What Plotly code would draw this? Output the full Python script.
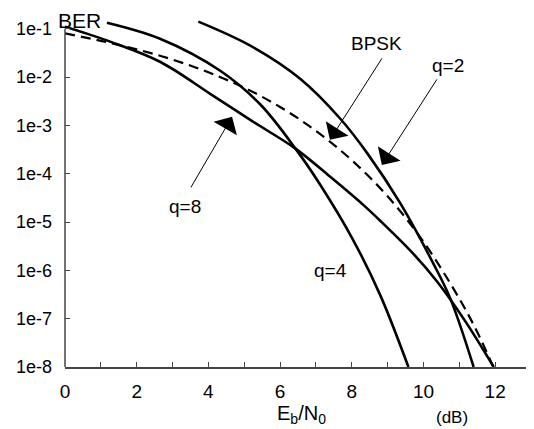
import plotly.graph_objects as go

# ---- data (Eb/N0 in dB, BER) ----
q2_x = [3.72, 5.17, 6.56, 7.68, 8.44, 9.36, 10.28, 10.75, 11.40]
q2_y = [0.140, 0.0445, 9.2e-3, 1.37e-3, 2.6e-4, 2.4e-5, 1.36e-6, 2.6e-7, 1.0e-8]

q4_x = [1.17, 2.65, 4.33, 5.45, 6.43, 7.12, 8.02, 8.80, 9.58]
q4_y = [0.133, 0.062, 0.0135, 2.7e-3, 3.3e-4, 5.9e-5, 4.5e-6, 3.0e-7, 1.0e-8]

q8_x = [0.0, 1.26, 2.65, 4.05, 5.20, 6.43, 7.40, 8.32, 8.80, 9.72, 10.39, 11.16, 11.96]
q8_y = [0.110, 0.054, 0.0207, 4.5e-3, 1.25e-3, 3.3e-4, 8.6e-5, 2.26e-5, 1.05e-5,
        2.19e-6, 5.75e-7, 9.0e-8, 1.0e-8]

bpsk_x = [0, 1, 2, 3, 4, 5, 6, 7, 8, 9, 10, 11, 11.5, 11.95]
bpsk_y = [0.080, 0.056, 0.0375, 0.023, 0.0125, 6.0e-3, 2.4e-3, 7.7e-4, 1.9e-4,
          3.4e-5, 3.9e-6, 2.6e-7, 5.3e-8, 1.0e-8]

x_tickvals = list(range(0, 14))
x_ticktext = [str(v) if v % 2 == 0 and v <= 12 else "" for v in x_tickvals]
y_tickvals = [1e-8, 1e-7, 1e-6, 1e-5, 1e-4, 1e-3, 1e-2, 1e-1]
y_ticktext = ["1e-8", "1e-7", "1e-6", "1e-5", "1e-4", "1e-3", "1e-2", "1e-1"]

Y_RANGE = [-8, -0.82]
FONT = "Liberation Sans, Arial, sans-serif"

fig = go.Figure()
solid = dict(color="black", width=2.6, shape="spline")
for xs, ys, name in [(q2_x, q2_y, "q=2"), (q4_x, q4_y, "q=4"), (q8_x, q8_y, "q=8")]:
    fig.add_trace(go.Scatter(x=xs, y=ys, mode="lines", line=solid, name=name))
fig.add_trace(go.Scatter(x=bpsk_x, y=bpsk_y, mode="lines", name="BPSK",
                         line=dict(color="black", width=2.2, dash="10px,6px", shape="spline")))

# y axis line only from 1e-8 to 1e-1
top_paper = (-1 - Y_RANGE[0]) / (Y_RANGE[1] - Y_RANGE[0])
fig.add_shape(type="line", xref="paper", yref="paper", x0=0, x1=0, y0=0, y1=top_paper,
              line=dict(color="#444", width=1.5))

anns = []
def label(text, x, y, size=19):
    anns.append(dict(text=text, x=x, y=y, xref="x", yref="y", showarrow=False,
                     font=dict(size=size, family=FONT, color="black")))

label("BPSK", 8.70, -1.313)
label("q=2", 10.68, -1.768)
label("q=8", 3.35, -4.687)
label("q=4", 7.42, -6.012)

def arrow(x, y, ax, ay):
    anns.append(dict(text="", x=x, y=y, xref="x", yref="y", ax=ax, ay=ay,
                     showarrow=True, arrowhead=1, arrowsize=4.5, arrowwidth=1,
                     arrowcolor="black", standoff=0))

arrow(7.39, -3.30, 53, -83)
arrow(8.84, -3.818, 56, -87)
arrow(4.66, -2.824, -42, 72)

anns.append(dict(text="BER", xref="paper", yref="paper", x=-0.02, y=1.0,
                 xanchor="left", yanchor="middle", showarrow=False,
                 font=dict(size=21, family=FONT, color="black")))
anns.append(dict(text="E<sub>b</sub>/N<sub>0</sub>", xref="x", yref="paper", x=6.61, y=-0.138,
                 xanchor="center", yanchor="middle",
                 showarrow=False, font=dict(size=20, family=FONT, color="black")))
anns.append(dict(text="(dB)", xref="x", yref="paper", x=10.79, y=-0.145,
                 xanchor="center", yanchor="middle",
                 showarrow=False, font=dict(size=17, family=FONT, color="black")))

# page body has an 8px margin: figure is sized/margined so the plot lands where the reference has it
fig.update_layout(
    width=526, height=421,
    margin=dict(l=57, r=3, t=12, b=62),
    paper_bgcolor="white", plot_bgcolor="white",
    showlegend=False,
    annotations=anns,
    font=dict(family=FONT, color="black"),
)
fig.update_xaxes(range=[0, 13], tickvals=x_tickvals, ticktext=x_ticktext,
                 ticks="inside", ticklen=5, tickcolor="#444", showgrid=False, zeroline=False,
                 showline=True, linecolor="#444", linewidth=1.5, automargin=False,
                 tickfont=dict(size=19, family=FONT, color="black"), ticklabelstandoff=6)
fig.update_yaxes(type="log", range=Y_RANGE, tickvals=y_tickvals, ticktext=y_ticktext,
                 ticks="inside", ticklen=5, tickcolor="#444", showgrid=False, zeroline=False,
                 showline=False, automargin=False,
                 tickfont=dict(size=18, family=FONT, color="black"), ticklabelstandoff=12)

fig.write_html("out.html")
